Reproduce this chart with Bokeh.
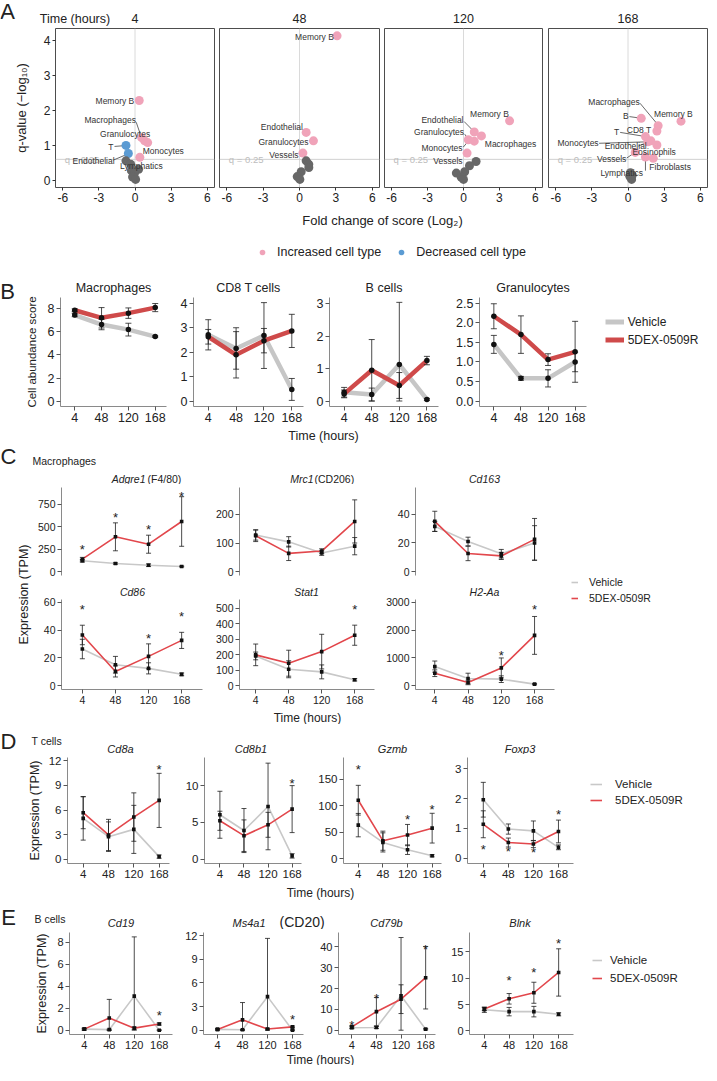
import math
from bokeh.plotting import figure
from bokeh.layouts import row, column
from bokeh.models import Label, Legend, LegendItem, Span, FixedTicker, NumeralTickFormatter
from bokeh.core.properties import value
from bokeh.embed import file_html
from bokeh.resources import INLINE

FONT = "Liberation Sans"
NAN = float("nan")

# ======================= DATA =======================
# ---- Panel A: fold change of score (log2) vs q-value (-log10) ----
q_cutoff = 0.25
a_facets = ["4", "48", "120", "168"]
a_xticks = [-6, -3, 0, 3, 6]
a_yticks = [0, 1, 2, 3, 4]

a4_fc = [0.35, 0.55, 0.8, 1.05, 0.4, -0.75, -0.55, -0.75, -0.35, -0.3, 0.3, -0.05, -0.2, 0.05]
a4_q = [2.28, 1.22, 1.13, 1.08, 0.66, 1.0, 0.77, 0.56, 0.46, 0.28, 0.32, 0.2, 0.1, 0.03]
a4_dir = ["up"] * 5 + ["down"] * 2 + ["ns"] * 7
a4_lab = ["Memory B", "Macrophages", "Granulocytes", "T", "Endothelial", "Monocytes", "Lymphatics"]
a4_lab_x = [-0.06, 0.08, -0.82, -1.8, -3.44, 2.35, 0.53]
a4_lab_y = [2.27, 1.71, 1.33, 0.95, 0.55, 0.83, 0.41]
a4_lab_al = ["right", "right", "center", "right", "center", "center", "center"]
a4_links = [(0.1, 1.66, 0.5, 1.26), (-1.7, 0.97, -0.95, 0.99), (-1.8, 0.58, -0.7, 0.74)]

a48_fc = [3.1, 0.55, 1.15, 0.28, 0.55, 0.77, 0.77, 0.14, -0.19, 0.03]
a48_q = [4.12, 1.37, 1.13, 0.78, 0.56, 0.46, 0.37, 0.25, 0.11, 0.03]
a48_dir = ["up"] * 4 + ["ns"] * 6
a48_lab = ["Memory B", "Endothelial", "Granulocytes", "Vessels"]
a48_lab_x = [2.83, 0.28, 0.75, -0.08]
a48_lab_y = [4.1, 1.52, 1.11, 0.73]
a48_lab_al = ["right", "right", "right", "right"]
a48_links = []

a120_fc = [3.85, 0.9, 1.5, 0.4, 0.9, 0.3, 1.05, 0.5, -0.6, 0.1, -0.2, 0.0]
a120_q = [1.7, 1.38, 1.27, 1.16, 1.12, 0.78, 0.54, 0.42, 0.21, 0.25, 0.1, 0.03]
a120_dir = ["up"] * 6 + ["ns"] * 6
a120_lab = ["Memory B", "Endothelial", "Granulocytes", "Monocytes", "Macrophages", "Vessels"]
a120_lab_x = [2.17, 0.0, 0.05, -0.08, 1.78, -0.08]
a120_lab_y = [1.88, 1.71, 1.38, 0.93, 1.03, 0.55]
a120_lab_al = ["center", "right", "right", "right", "left", "right"]
a120_links = [(0.05, 1.68, 0.8, 1.42), (0.1, 1.32, 0.35, 1.2), (-0.02, 0.95, 0.35, 1.1)]

a168_fc = [4.4, 1.1, 2.5, 2.4, 1.45, 1.9, 1.65, 2.4, 0.6, 1.45, 2.1, 0.2, 0.35, 0.25, 0.15, 0.3]
a168_q = [1.69, 1.77, 1.56, 1.41, 1.25, 1.13, 1.1, 1.01, 0.8, 0.67, 0.63, 0.22, 0.15, 0.08, 0.12, 0.03]
a168_dir = ["up"] * 11 + ["ns"] * 5
a168_lab = ["Macrophages", "B", "Memory B", "CD8 T", "T", "Monocytes", "Endothelial",
            "Eosinophils", "Vessels", "Fibroblasts", "Lymphatics"]
a168_lab_x = [0.98, 0.05, 3.77, 0.92, -0.73, -2.44, -0.19, 2.17, -0.14, 3.5, -0.52]
a168_lab_y = [2.23, 1.83, 1.89, 1.45, 1.38, 1.06, 0.98, 0.81, 0.62, 0.38, 0.21]
a168_lab_al = ["right", "right", "center", "center", "right", "right", "center",
               "center", "right", "center", "center"]
a168_links = [(1.0, 2.2, 2.45, 1.6), (0.12, 1.82, 0.95, 1.78), (-0.65, 1.37, 1.3, 1.26),
              (-2.4, 1.06, 1.55, 1.1), (0.85, 0.98, 1.85, 1.12), (-0.1, 0.64, 0.5, 0.78),
              (1.45, 0.62, 1.45, 0.28)]

# ---- Panels B-E: time courses ----
time_labels = ["4", "48", "120", "168"]

# B: cell abundance score
b_mac_veh = [7.44, 6.62, 6.18, 5.58]; b_mac_veh_sd = [0.15, 0.45, 0.55, 0.06]
b_mac_dex = [7.85, 7.2, 7.6, 8.08]; b_mac_dex_sd = [0.12, 0.88, 0.45, 0.35]
b_cd8_veh = [2.72, 2.16, 2.69, 0.48]; b_cd8_veh_sd = [0.62, 0.85, 1.35, 0.45]
b_cd8_dex = [2.64, 1.9, 2.48, 2.88]; b_cd8_dex_sd = [0.3, 0.95, 0.5, 0.68]
b_bc_veh = [0.27, 0.2, 1.13, 0.05]; b_bc_veh_sd = [0.15, 0.2, 1.92, 0.03]
b_bc_dex = [0.22, 0.95, 0.48, 1.25]; b_bc_dex_sd = [0.12, 0.95, 0.4, 0.13]
b_gr_veh = [1.45, 0.58, 0.58, 1.0]; b_gr_veh_sd = [0.23, 0.05, 0.22, 0.25]
b_gr_dex = [2.17, 1.7, 1.06, 1.26]; b_gr_dex_sd = [0.32, 0.48, 0.15, 0.78]

# C: macrophage genes (TPM)
adg_veh = [122, 92, 73, 59]; adg_veh_sd = [15, 8, 15, 5]
adg_dex = [140, 388, 306, 558]; adg_dex_sd = [20, 155, 100, 275]
adg_star = [280, 640, 506, 869]
mrc_veh = [128, 104, 65, 89]; mrc_veh_sd = [18, 18, 8, 30]
mrc_dex = [125, 64, 72, 175]; mrc_dex_sd = [20, 25, 8, 75]
cd163_veh = [31.5, 21, 12.5, 20]; cd163_veh_sd = [3.5, 3, 3, 12]
cd163_dex = [35, 12.7, 11, 22.5]; cd163_dex_sd = [7, 5, 2.5, 14.5]
cd86_veh = [26.4, 15.1, 12.5, 8.2]; cd86_veh_sd = [7, 6, 4, 1]
cd86_dex = [36.5, 10.3, 21.1, 32.6]; cd86_dex_sd = [7, 4, 9, 5.8]
cd86_star = [57, None, 36, 52]
stat1_veh = [193, 107, 90, 39]; stat1_veh_sd = [25, 55, 45, 8]
stat1_dex = [200, 146, 221, 327]; stat1_dex_sd = [70, 84, 112, 65]
stat1_star = [None, None, None, 512]
h2_veh = [690, 262, 238, 60]; h2_veh_sd = [200, 190, 120, 20]
h2_dex = [452, 119, 643, 1810]; h2_dex_sd = [120, 80, 357, 680]
h2_star = [None, None, 1214, 2833]

# D: T cell genes (TPM)
cd8a_veh = [4.98, 2.75, 3.64, 0.32]; cd8a_veh_sd = [2.65, 1.8, 2.93, 0.2]
cd8a_dex = [5.67, 2.96, 5.14, 7.17]; cd8a_dex_sd = [1.95, 1.9, 2.95, 3.3]
cd8a_star = [None, None, None, 11.3]
cd8b1_veh = [6.05, 3.9, 7.18, 0.45]; cd8b1_veh_sd = [3.2, 3.0, 5.9, 0.3]
cd8b1_dex = [5.23, 3.2, 4.68, 6.82]; cd8b1_dex_sd = [1.3, 2.15, 1.7, 3.2]
cd8b1_star = [None, None, None, 10.7]
gzmb_veh = [63.7, 31.2, 17.5, 6]; gzmb_veh_sd = [22, 18, 9, 2]
gzmb_dex = [110.6, 34.4, 45, 58]; gzmb_dex_sd = [28, 18, 20, 28]
gzmb_star = [175, None, 80, 98]
foxp3_veh = [1.96, 0.98, 0.92, 0.37]; foxp3_veh_sd = [0.58, 0.17, 0.33, 0.08]
foxp3_dex = [1.14, 0.53, 0.48, 0.9]; foxp3_dex_sd = [0.45, 0.15, 0.12, 0.38]
foxp3_star = [0.4, 0.34, 0.31, 1.56]

# E: B cell genes (TPM)
cd19_veh = [0.1, 0.05, 3.11, 0.0]; cd19_veh_sd = [0.08, 0.05, 5.4, 0.02]
cd19_dex = [0.1, 1.11, 0.19, 0.57]; cd19_dex_sd = [0.08, 1.7, 0.1, 0.1]
cd19_star = [None, None, None, 1.6]
ms4a1_veh = [0.1, 0.05, 4.26, 0.0]; ms4a1_veh_sd = [0.08, 0.05, 7.4, 0.02]
ms4a1_dex = [0.1, 1.31, 0.15, 0.42]; ms4a1_dex_sd = [0.08, 2.2, 0.1, 0.1]
ms4a1_star = [None, None, None, 1.7]
cd79b_veh = [1.2, 1.3, 16.5, 0.5]; cd79b_veh_sd = [0.5, 0.5, 28, 0.3]
cd79b_dex = [1.6, 8.9, 14.9, 25.2]; cd79b_dex_sd = [0.6, 6.8, 6.9, 15]
cd79b_star = [3.7, 16.5, None, 40]
blnk_veh = [4.0, 3.65, 3.65, 3.14]; blnk_veh_sd = [0.5, 0.8, 1.0, 0.3]
blnk_dex = [4.17, 6.09, 7.24, 11.1]; blnk_dex_sd = [0.3, 1.0, 2.0, 4.5]
blnk_star = [None, 10.1, 11.6, 17.2]

# ======================= STYLE =======================
PINK = "#f0a3b9"
BLUE = "#5b9bd3"
DGRAY = "#676767"
DIR_COLOR = {"up": PINK, "down": BLUE, "ns": DGRAY}
GRAY_B, RED_B = "#c6c6c6", "#cf4a4a"
GRAY_L, RED_L = "#c8c8c8", "#e2474c"
INK = "#222222"


def make_fig(w, h, l, r, t, b, xr, yr):
    p = figure(width=w, height=h, x_range=xr, y_range=yr, toolbar_location=None,
               output_backend="svg", min_border_left=l, min_border_right=r,
               min_border_top=t, min_border_bottom=b)
    p.title.visible = False
    p.grid.visible = False
    p.outline_line_color = None
    p.background_fill_color = "white"
    p.border_fill_color = "white"
    return p


def strip(w, h):
    p = figure(width=w, height=h, x_range=(0, w), y_range=(0, h), toolbar_location=None,
               output_backend="svg", min_border=0, min_border_left=0, min_border_right=0,
               min_border_top=0, min_border_bottom=0, x_axis_type=None, y_axis_type=None)
    p.title.visible = False
    p.outline_line_color = None
    p.border_fill_color = "white"
    p.background_fill_color = "white"
    return p


def put(p, fl, fb, text, X, Y, size, align="center", baseline="middle", style="normal",
        angle=0.0, color=INK):
    # X, Y: page position of the text; (fl, fb): page position of the strip's bottom-left
    p.add_layout(Label(x=X - fl, y=fb - Y, x_units="screen", y_units="screen", text=text,
                       text_font=FONT, text_font_size=f"{size}px", text_font_style=style,
                       text_align=align, text_baseline=baseline, angle=angle,
                       text_color=color))


def style_axes(p, size):
    for ax in p.axis:
        ax.major_tick_line_color = "#555555"
        ax.major_tick_out = 4
        ax.major_tick_in = 0
        ax.minor_tick_line_color = None
        ax.major_label_text_font = FONT
        ax.major_label_text_font_size = f"{size}px"
        ax.major_label_text_color = INK
        ax.major_label_standoff = 2
        ax.axis_label_text_font = FONT
        ax.axis_label_text_font_style = "normal"
        ax.axis_label_text_color = INK


def ylabel(p, text, size, standoff):
    p.yaxis.axis_label = text
    p.yaxis.axis_label_text_font_size = f"{size}px"
    p.yaxis.axis_label_standoff = standoff


# ======================= PANEL A =======================
A_geo = [(216, 55, 2), (165, 3, 2), (164, 3, 3), (163, 3, 1)]
A_x0 = [8, 224, 389, 553]
a_sets = [
    (a4_fc, a4_q, a4_dir, a4_lab, a4_lab_x, a4_lab_y, a4_lab_al, a4_links),
    (a48_fc, a48_q, a48_dir, a48_lab, a48_lab_x, a48_lab_y, a48_lab_al, a48_links),
    (a120_fc, a120_q, a120_dir, a120_lab, a120_lab_x, a120_lab_y, a120_lab_al, a120_links),
    (a168_fc, a168_q, a168_dir, a168_lab, a168_lab_x, a168_lab_y, a168_lab_al, a168_links),
]
qline = -math.log10(q_cutoff)

ah = strip(708, 28)
put(ah, 8, 36, "A", 15, 19, 22)
put(ah, 8, 36, "Time (hours)", 82.5, 26, 12.5)

a_figs = []
for k, ((w, l, r), x0, data) in enumerate(zip(A_geo, A_x0, a_sets)):
    fc, qv, dr, lab, lx, ly, lal, links = data
    fl = x0 + l
    fr = x0 + w - r
    put(ah, 8, 36, a_facets[k], (fl + fr) / 2, 26, 12.5)
    p = make_fig(w, 182, l, r, 0, 23, (-6.6, 6.6), (-0.2, 4.33))
    p.outline_line_color = "#4d4d4d"
    p.outline_line_width = 1
    p.add_layout(Span(location=0, dimension="height", line_color="#dadada", line_width=1,
                      level="underlay"))
    p.add_layout(Span(location=qline, dimension="width", line_color="#d0d0d0", line_width=1,
                      level="underlay"))
    p.text(x=[-4.4], y=[qline], text=[f"q = {q_cutoff}"], text_align="center",
           text_baseline="middle", text_font=value(FONT), text_font_size="9.5px",
           text_color="#bdbdbd")
    if links:
        p.segment(x0=[c[0] for c in links], y0=[c[1] for c in links],
                  x1=[c[2] for c in links], y1=[c[3] for c in links],
                  line_color="#444444", line_width=0.8)
    p.scatter(fc, qv, size=9, fill_color=[DIR_COLOR[d] for d in dr], line_color=None)
    for al in ("left", "center", "right"):
        idx = [i for i, a in enumerate(lal) if a == al]
        if idx:
            p.text(x=[lx[i] for i in idx], y=[ly[i] for i in idx], text=[lab[i] for i in idx],
                   text_align=al, text_baseline="middle", text_font=value(FONT),
                   text_font_size="8.5px", text_color="#333333")
    p.xaxis.ticker = FixedTicker(ticks=a_xticks)
    p.xaxis.major_label_overrides = {t: str(t) for t in a_xticks}
    p.yaxis.ticker = FixedTicker(ticks=a_yticks)
    style_axes(p, 12)
    for ax in p.axis:
        ax.axis_line_color = None
        ax.major_tick_out = 3
        ax.major_tick_line_color = "#333333"
    if k > 0:
        p.yaxis.visible = False
    else:
        ylabel(p, "q-value (−log₁₀)", 13, 12)
    a_figs.append(p)

sa = strip(708, 58)
put(sa, 8, 276, "Fold change of score (Log₂)", 390, 228, 13)
r_up = sa.scatter(x=[NAN], y=[NAN], size=8, fill_color=PINK, line_color=None)
r_dn = sa.scatter(x=[NAN], y=[NAN], size=8, fill_color=BLUE, line_color=None)
sa.add_layout(Legend(items=[LegendItem(label="Increased cell type", renderers=[r_up]),
                            LegendItem(label="Decreased cell type", renderers=[r_dn])],
                     orientation="horizontal", location=(255, 9), glyph_width=14,
                     glyph_height=14, label_height=14, label_standoff=8, spacing=13,
                     padding=0, margin=0, border_line_color=None, background_fill_alpha=0,
                     label_text_font=FONT, label_text_font_size="12.5px",
                     label_text_color=INK))


# ======================= line panels =======================
def line_panel(geo, xr, yr, yticks, veh, veh_sd, dex, dex_sd, stars=None,
               thick=False, show_x=True, yfmt=None, tick_size=11):
    w, h, l, r, t, b = geo
    p = make_fig(w, h, l, r, t, b, xr, yr)
    xs = list(range(len(time_labels)))
    lw = 4.5 if thick else 1.6
    gcol, rcol = (GRAY_B, RED_B) if thick else (GRAY_L, RED_L)
    p.line(xs, veh, line_color=gcol, line_width=lw)
    p.line(xs, dex, line_color=rcol, line_width=lw)
    cap = 6 if thick else 5
    for m, sd in ((veh, veh_sd), (dex, dex_sd)):
        lo = [max(a - s, 0) for a, s in zip(m, sd)]
        hi = [a + s for a, s in zip(m, sd)]
        p.segment(x0=xs, y0=lo, x1=xs, y1=hi, line_color="#1e1e1e", line_width=0.8)
        p.scatter(xs, lo, marker="dash", size=cap, line_color="#1e1e1e", line_width=0.8)
        p.scatter(xs, hi, marker="dash", size=cap, line_color="#1e1e1e", line_width=0.8)
    for m in (veh, dex):
        if thick:
            p.scatter(xs, m, marker="circle", size=5.5, fill_color="#111111", line_color=None)
        else:
            p.scatter(xs, m, marker="square", size=3.6, fill_color="#111111", line_color=None)
    if stars:
        sx = [i for i, s in enumerate(stars) if s is not None]
        sy = [s for s in stars if s is not None]
        p.text(x=sx, y=sy, text=["*"] * len(sx), text_align="center", text_baseline="middle",
               text_font=value(FONT), text_font_size="13px", text_color=INK, y_offset=3)
    p.xaxis.ticker = FixedTicker(ticks=xs)
    p.xaxis.major_label_overrides = {i: tl for i, tl in enumerate(time_labels)}
    p.yaxis.ticker = FixedTicker(ticks=yticks)
    if yfmt:
        p.yaxis.formatter = NumeralTickFormatter(format=yfmt)
    style_axes(p, tick_size)
    for ax in p.axis:
        ax.axis_line_color = "#8a8a8a"
        ax.axis_line_width = 1
    if not show_x:
        p.xaxis.visible = False
    return p


def legend_strip(w, h, loc, gw, gh, standoff, spacing, lw, size, gcol, rcol):
    s = strip(w, h)
    r1 = s.line(x=[NAN, NAN], y=[NAN, NAN], line_color=gcol, line_width=lw)
    r2 = s.line(x=[NAN, NAN], y=[NAN, NAN], line_color=rcol, line_width=lw)
    s.add_layout(Legend(items=[LegendItem(label="Vehicle", renderers=[r1]),
                               LegendItem(label="5DEX-0509R", renderers=[r2])],
                        location=loc, glyph_width=gw, glyph_height=gh, label_height=gh,
                        label_standoff=standoff, spacing=spacing, padding=0, margin=0,
                        border_line_color=None, background_fill_alpha=0,
                        label_text_font=FONT, label_text_font_size=f"{size}px",
                        label_text_color=INK))
    return s


# ======================= PANEL B =======================
bl = strip(22, 160)
put(bl, 8, 436, "B", 15, 299, 22)
bh = strip(686, 27)
put(bh, 30, 303, "Macrophages", 121, 295, 12.5)
put(bh, 30, 303, "CD8 T cells", 256, 295, 12.5)
put(bh, 30, 303, "B cells", 391.5, 295, 12.5)
put(bh, 30, 303, "Granulocytes", 540.5, 295, 12.5)

bxr = (-0.53, 3.42)
bm = line_panel((150, 133, 38, 6, 2, 22), bxr, (-0.45, 8.95), [0, 2, 4, 6, 8],
                b_mac_veh, b_mac_veh_sd, b_mac_dex, b_mac_dex_sd, thick=True, tick_size=12.5)
ylabel(bm, "Cell abundance score", 11.5, 7)
bc = line_panel((140, 133, 21, 9, 2, 22), bxr, (-0.22, 4.25), [0, 1, 2, 3, 4],
                b_cd8_veh, b_cd8_veh_sd, b_cd8_dex, b_cd8_dex_sd, thick=True, tick_size=12.5)
bb = line_panel((140, 133, 17, 14, 2, 22), bxr, (-0.17, 3.2), [0, 1, 2, 3],
                b_bc_veh, b_bc_veh_sd, b_bc_dex, b_bc_dex_sd, thick=True, tick_size=12.5)
bg = line_panel((140, 133, 27, 6, 2, 22), bxr, (-0.14, 2.65),
                [0, 0.5, 1, 1.5, 2, 2.5], b_gr_veh, b_gr_veh_sd, b_gr_dex, b_gr_dex_sd,
                thick=True, yfmt="0.0", tick_size=12.5)
bleg = legend_strip(116, 133, (12.7, 59.5), 19, 13, 4, 4, 5, 12, GRAY_B, RED_B)
bt = strip(708, 16)
put(bt, 8, 452, "Time (hours)", 331, 443, 12.5)

# ======================= PANEL C =======================
ch = strip(708, 40)
put(ch, 8, 492, "C", 16, 464, 22)
put(ch, 8, 492, "Macrophages", 40, 468, 10.5, align="left")
put(ch, 8, 492, "Adgre1", 153, 486, 10.5, align="right", style="italic")
put(ch, 8, 492, "(F4/80)", 155, 486, 10.5, align="left")
put(ch, 8, 492, "Mrc1", 321, 486, 10.5, align="right", style="italic")
put(ch, 8, 492, "(CD206)", 322, 486, 10.5, align="left")
put(ch, 8, 492, "Cd163", 492, 486, 10.5, style="italic")

cl = strip(32, 240)
put(cl, 8, 732, "Expression (TPM)", 31, 602, 12.5, angle=math.pi / 2)

c1x, c2x, c3x = (-0.63, 3.63), (-0.49, 3.6), (-0.58, 3.6)
c11 = line_panel((180, 96, 29, 10, 3, 5), c1x, (-41, 935), [0, 250, 500, 750],
                 adg_veh, adg_veh_sd, adg_dex, adg_dex_sd, adg_star, show_x=False, tick_size=10.5)
c12 = line_panel((166, 96, 26, 4, 3, 5), c2x, (-13, 293), [0, 100, 200],
                 mrc_veh, mrc_veh_sd, mrc_dex, mrc_dex_sd, None, show_x=False, tick_size=10.5)
c13 = line_panel((184, 96, 37, 8, 3, 5), c3x, (-2.6, 58.5), [0, 20, 40],
                 cd163_veh, cd163_veh_sd, cd163_dex, cd163_dex_sd, None, show_x=False,
                 tick_size=10.5)
ct2 = strip(530, 16)
put(ct2, 40, 604, "Cd86", 140, 599, 10.5, style="italic")
put(ct2, 40, 604, "Stat1", 314, 599, 10.5, style="italic")
put(ct2, 40, 604, "H2-Aa", 492, 599, 10.5, style="italic")
c21 = line_panel((180, 112, 29, 10, 3, 19), c1x, (-2.7, 62), [0, 20, 40, 60],
                 cd86_veh, cd86_veh_sd, cd86_dex, cd86_dex_sd, cd86_star, tick_size=10.5)
c22 = line_panel((166, 112, 26, 4, 3, 19), c2x, (-24, 558),
                 [0, 100, 200, 300, 400, 500], stat1_veh, stat1_veh_sd, stat1_dex, stat1_dex_sd,
                 stat1_star, tick_size=10.5)
c23 = line_panel((184, 112, 37, 8, 3, 19), c3x, (-133, 3100),
                 [0, 1000, 2000, 3000], h2_veh, h2_veh_sd, h2_dex, h2_dex_sd, h2_star,
                 tick_size=10.5)
ctt = strip(530, 16)
put(ctt, 40, 732, "Time (hours)", 315, 725, 12)
cleg = legend_strip(146, 240, (9, 120), 7, 12, 11, 4, 1.6, 10.5, GRAY_L, RED_L)

# ======================= PANEL D =======================
dh = strip(708, 30)
put(dh, 8, 762, "D", 16, 749, 22)
put(dh, 8, 762, "T cells", 39, 748, 10.5, align="left")
put(dh, 8, 762, "Cd8a", 128, 756, 11, style="italic")
put(dh, 8, 762, "Cd8b1", 258.5, 756, 11, style="italic")
put(dh, 8, 762, "Gzmb", 400, 756, 11, style="italic")
put(dh, 8, 762, "Foxp3", 527.5, 756, 11, style="italic")
d1 = line_panel((182, 130, 67, 13, 3, 21), (-0.62, 3.41), (-0.52, 12.4),
                [0, 3, 6, 9, 12], cd8a_veh, cd8a_veh_sd, cd8a_dex, cd8a_dex_sd, cd8a_star,
                tick_size=11.5)
ylabel(d1, "Expression (TPM)", 12.5, 4)
d2 = line_panel((133, 130, 18, 14, 3, 21), (-0.64, 3.39), (-0.59, 13.85),
                [0, 5, 10], cd8b1_veh, cd8b1_veh_sd, cd8b1_dex, cd8b1_dex_sd, cd8b1_star,
                tick_size=11.5)
d3 = line_panel((137, 130, 25, 11, 3, 21), (-0.6, 3.38), (-8.5, 191),
                [0, 50, 100, 150], gzmb_veh, gzmb_veh_sd, gzmb_dex, gzmb_dex_sd, gzmb_star,
                tick_size=11.5)
d4 = line_panel((130, 130, 14, 9, 3, 21), (-0.63, 3.6), (-0.17, 3.37),
                [0, 1, 2, 3], foxp3_veh, foxp3_veh_sd, foxp3_dex, foxp3_dex_sd, foxp3_star,
                tick_size=11.5)
dleg = legend_strip(126, 130, (8, 56.7), 12, 12, 13, 4, 1.6, 11.5, GRAY_L, RED_L)
dt = strip(708, 16)
put(dt, 8, 908, "Time (hours)", 328, 900, 12)

# ======================= PANEL E =======================
eh = strip(708, 29)
put(eh, 8, 937, "E", 16, 925, 22)
put(eh, 8, 937, "B cells", 42, 926, 10.5, align="left")
put(eh, 8, 937, "Cd19", 128.5, 930, 11, style="italic")
put(eh, 8, 937, "Ms4a1", 273, 930, 11, align="right", style="italic")
put(eh, 8, 937, "(CD20)", 287, 929, 14, align="left")
put(eh, 8, 937, "Cd79b", 394, 930, 11, style="italic")
put(eh, 8, 937, "Blnk", 527.5, 930, 11, style="italic")
e1 = line_panel((182, 124, 69, 10, 3, 19), (-0.59, 3.53), (-0.39, 8.91),
                [0, 2, 4, 6, 8], cd19_veh, cd19_veh_sd, cd19_dex, cd19_dex_sd, cd19_star,
                tick_size=11)
ylabel(e1, "Expression (TPM)", 12.5, 5)
e2 = line_panel((135, 124, 21, 14, 3, 19), (-0.56, 3.44), (-0.55, 12.41),
                [0, 3, 6, 9, 12], ms4a1_veh, ms4a1_veh_sd, ms4a1_dex, ms4a1_dex_sd, ms4a1_star,
                tick_size=11)
e3 = line_panel((131, 124, 18, 13, 3, 19), (-0.54, 3.4), (-2.06, 46.9),
                [0, 10, 20, 30, 40], cd79b_veh, cd79b_veh_sd, cd79b_dex, cd79b_dex_sd,
                cd79b_star, tick_size=11)
e4 = line_panel((134, 124, 19, 9, 3, 19), (-0.6, 3.6), (-0.7, 18.7),
                [0, 5, 10, 15], blnk_veh, blnk_veh_sd, blnk_dex, blnk_dex_sd, blnk_star,
                tick_size=11)
eleg = legend_strip(126, 124, (10, 50), 10, 12, 8, 6, 1.6, 11.5, GRAY_L, RED_L)
et = strip(708, 12)
put(et, 8, 1073, "Time (hours)", 328, 1067, 12)

# ======================= LAYOUT =======================
secA = column(ah, row(*a_figs), sa)
secB = column(row(bl, column(bh, row(bm, bc, bb, bg, bleg))), bt)
secC = column(ch, row(cl, column(row(c11, c12, c13), ct2, row(c21, c22, c23), ctt), cleg))
secD = column(dh, row(d1, d2, d3, d4, dleg), dt)
secE = column(eh, row(e1, e2, e3, e4, eleg), et)
page = column(secA, secB, secC, secD, secE)

open("out.html", "w").write(file_html(page, INLINE))
